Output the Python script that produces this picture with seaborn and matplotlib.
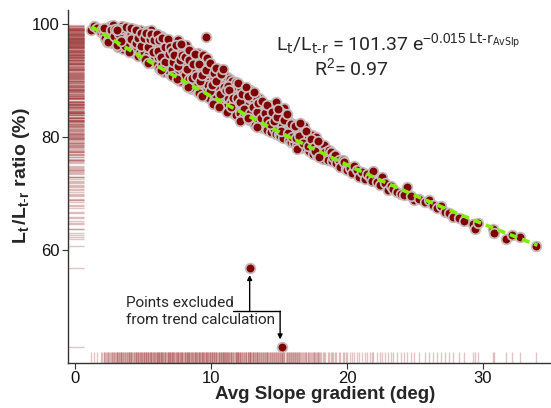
import numpy as np
import pandas as pd
import matplotlib
matplotlib.use("Agg")
import matplotlib.pyplot as plt
import seaborn as sns

# ---- data ----
slope = [
    1.2, 1.4, 1.6, 1.9, 2.0,
    2.1, 2.2, 2.3, 2.4, 2.5, 2.6, 2.7, 2.8, 2.9, 3.0, 2.35, 2.75,
    3.1, 3.2, 3.3, 3.4, 3.5, 3.6, 3.7, 3.8, 3.9, 4.0, 3.15, 3.45, 3.55, 3.85, 3.95,
    4.05, 4.1, 4.2, 4.3, 4.35, 4.4, 4.5, 4.55, 4.6, 4.7, 4.75, 4.8, 4.9, 4.95, 5.0, 4.25, 4.65,
    5.05, 5.1, 5.2, 5.25, 5.3, 5.4, 5.45, 5.5, 5.6, 5.65, 5.7, 5.8, 5.85, 5.9, 6.0, 5.15, 5.55, 5.95,
    6.05, 6.1, 6.2, 6.25, 6.3, 6.4, 6.5, 6.55, 6.6, 6.7, 6.75, 6.8, 6.9, 6.95, 7.0, 6.15, 6.45, 6.85,
    7.05, 7.1, 7.2, 7.3, 7.35, 7.4, 7.5, 7.6, 7.65, 7.7, 7.8, 7.85, 7.9, 8.0, 7.15, 7.55, 7.95,
    8.05, 8.1, 8.2, 8.25, 8.3, 8.4, 8.5, 8.55, 8.6, 8.7, 8.75, 8.8, 8.9, 8.95, 9.0, 8.15, 8.45, 8.85,
    9.05, 9.1, 9.2, 9.25, 9.3, 9.4, 9.5, 9.55, 9.6, 9.65, 9.7, 9.8, 9.85, 9.9, 10.0, 9.15, 9.45, 9.75,
    10.05, 10.1, 10.2, 10.25, 10.3, 10.4, 10.5, 10.55, 10.6, 10.7, 10.75, 10.8, 10.9, 10.95, 11.0, 10.15, 10.45, 10.85,
    11.05, 11.1, 11.2, 11.25, 11.3, 11.4, 11.45, 11.5, 11.6, 11.7, 11.75, 11.8, 11.9, 11.95, 12.0, 11.15, 11.55, 11.85,
    12.05, 12.1, 12.2, 12.3, 12.35, 12.4, 12.5, 12.6, 12.7, 12.8, 12.9, 12.95, 13.0, 12.15, 12.55, 12.85,
    13.05, 13.1, 13.2, 13.3, 13.4, 13.5, 13.6, 13.7, 13.8, 13.9, 14.0, 13.25, 13.55, 13.85,
    14.05, 14.1, 14.2, 14.3, 14.4, 14.5, 14.55, 14.6, 14.7, 14.8, 14.9, 15.0, 14.25, 14.75,
    15.05, 15.1, 15.2, 15.3, 15.4, 15.5, 15.6, 15.7, 15.8, 15.9, 16.0, 15.25, 15.75,
    16.05, 16.1, 16.2, 16.3, 16.4, 16.5, 16.6, 16.7, 16.8, 16.9, 17.0, 16.35,
    17.1, 17.2, 17.3, 17.4, 17.5, 17.6, 17.8, 17.9, 18.0, 17.7,
    18.1, 18.2, 18.3, 18.4, 18.6, 18.7, 18.8, 18.9, 19.0,
    19.1, 19.2, 19.4, 19.5, 19.7, 19.8, 19.9, 20.0,
    20.2, 20.4, 20.5, 20.7, 20.9, 21.1, 21.3, 21.5, 21.7, 21.9, 21.8,
    22.2, 22.4, 22.6, 22.8, 23.0, 23.2, 23.4, 23.7, 24.0, 24.4, 24.2, 24.9, 24.7,
    25.3, 25.7, 26.0, 26.3, 26.6, 26.9, 27.2, 27.5, 27.8,
    28.2, 28.6, 29.3, 29.4, 29.6, 30.7, 30.8, 31.7, 32.1, 32.7, 33.9,
    2.15, 2.45, 2.65, 2.85, 2.95,
    3.05, 3.25, 3.35, 3.65, 3.75, 3.05, 3.4,
    4.15, 4.15, 4.45, 4.45, 4.6, 4.85, 4.85, 4.0,
    5.1, 5.2, 5.35, 5.5, 5.6, 5.75, 5.8, 6.0, 5.35,
    6.1, 6.2, 6.35, 6.4, 6.6, 6.65, 6.8, 6.9, 7.0, 6.3,
    7.1, 7.2, 7.3, 7.45, 7.6, 7.75, 7.8, 7.9, 7.5,
    8.1, 8.2, 8.35, 8.4, 8.6, 8.65, 8.8, 8.9, 8.3,
    9.1, 9.2, 9.35, 9.4, 9.6, 9.7, 9.9, 9.95, 9.35,
    10.1, 10.2, 10.35, 10.4, 10.65, 10.7, 10.9, 10.95, 10.6,
    11.1, 11.25, 11.35, 11.5, 11.65, 11.8, 11.9, 12.0,
    12.1, 12.25, 12.45, 12.6, 12.75, 12.9, 12.7,
    13.1, 13.15, 13.35, 13.45, 13.65, 13.75, 13.95, 13.4,
    14.1, 14.15, 14.35, 14.45, 14.65, 14.85, 14.95,
    15.15, 15.35, 15.55, 15.65, 15.85, 15.95,
    16.15, 16.25, 16.45, 16.55, 16.75, 16.95,
    17.15, 17.35, 17.55, 17.65, 17.85, 17.95,
    12.84, 15.2,
]
ratio = [
    99.0, 99.6, 99.3, 98.6, 99.1,
    98.2, 97.6, 99.0, 98.5, 97.3, 99.6, 98.0, 99.8, 97.1, 98.7, 96.9, 96.6,
    97.8, 99.4, 96.5, 98.1, 95.6, 99.0, 97.2, 98.6, 95.8, 97.6, 96.0, 99.7, 97.0, 96.6, 98.9,
    95.4, 98.2, 96.3, 99.2, 94.9, 97.5, 95.9, 98.6, 94.3, 96.8, 99.0, 95.1, 97.9, 94.5, 96.4, 97.0, 98.0,
    98.3, 95.0, 96.9, 93.6, 98.7, 94.6, 97.4, 95.8, 93.1, 97.9, 96.1, 94.0, 98.0, 95.3, 92.9, 93.9, 99.0, 96.7,
    97.4, 94.2, 92.3, 95.8, 97.9, 93.0, 96.2, 91.6, 94.8, 97.0, 92.6, 95.4, 93.6, 96.6, 91.2, 96.5, 94.0, 91.9,
    94.4, 92.1, 96.0, 96.9, 90.7, 93.5, 95.2, 91.4, 94.0, 89.9, 92.8, 95.5, 90.4, 93.7, 90.8, 97.2, 91.9,
    95.8, 91.0, 93.2, 89.1, 94.6, 90.3, 92.4, 95.0, 88.6, 91.6, 94.1, 89.5, 92.9, 88.2, 90.8, 96.3, 88.7, 93.6,
    94.9, 91.2, 88.3, 93.4, 89.6, 92.1, 87.4, 90.6, 97.7, 93.0, 88.6, 92.4, 86.9, 90.0, 91.3, 87.8, 94.2, 89.3,
    88.0, 92.4, 86.4, 90.5, 87.6, 91.7, 85.9, 89.2, 92.0, 86.8, 90.1, 88.3, 85.6, 91.0, 87.1, 85.8, 88.6, 89.7,
    89.4, 85.4, 90.7, 87.0, 84.6, 90.3, 86.3, 88.2, 84.3, 89.0, 85.9, 87.5, 84.8, 88.8, 86.2, 84.5, 90.0, 83.9,
    87.3, 84.3, 88.6, 85.5, 83.3, 86.9, 88.0, 84.4, 86.2, 83.0, 88.3, 85.1, 82.9, 82.9, 85.8, 87.0,
    86.7, 84.0, 82.2, 85.6, 83.3, 86.9, 82.0, 84.7, 81.6, 85.9, 83.0, 87.3, 84.2, 82.8,
    84.6, 81.3, 82.8, 85.7, 80.9, 85.4, 83.4, 81.5, 84.0, 80.6, 82.7, 80.5, 83.9, 86.3,
    83.6, 80.2, 82.1, 79.8, 85.1, 81.3, 83.3, 79.5, 81.8, 79.2, 80.6, 84.2, 82.6,
    82.3, 79.0, 80.8, 78.6, 81.5, 79.6, 78.1, 80.4, 82.0, 78.3, 79.7, 77.9,
    79.9, 77.6, 78.8, 80.4, 77.1, 79.0, 76.9, 78.5, 77.4, 80.1,
    77.0, 76.2, 78.6, 77.4, 75.9, 77.8, 77.4, 75.7, 76.5,
    76.8, 75.4, 76.0, 74.8, 75.9, 75.6, 74.4, 74.2,
    74.5, 73.6, 74.9, 74.2, 73.0, 73.9, 72.6, 73.4, 72.9, 74.0, 72.2,
    72.1, 71.5, 73.0, 71.8, 70.6, 71.4, 70.8, 70.2, 70.0, 71.2, 69.7, 68.8, 69.5,
    69.0, 68.6, 68.8, 67.9, 67.4, 67.8, 66.7, 66.6, 65.9,
    65.6, 65.2, 64.6, 63.8, 64.8, 63.7, 63.0, 61.9, 62.6, 62.3, 60.8,
    99.3, 96.8, 98.9, 97.9, 99.2,
    96.3, 98.3, 99.1, 96.1, 99.5, 98.9, 97.0,
    97.3, 99.4, 96.7, 98.9, 97.6, 96.2, 98.4, 95.0,
    97.6, 98.5, 95.9, 97.3, 98.3, 95.0, 97.2, 98.2, 93.2,
    95.3, 97.2, 94.2, 97.6, 96.0, 93.3, 97.3, 94.7, 96.0, 91.9,
    95.3, 93.3, 94.5, 96.3, 92.5, 93.7, 96.4, 94.6, 90.3,
    94.1, 92.0, 95.5, 93.7, 90.5, 93.0, 94.8, 90.9, 88.9,
    93.0, 90.0, 91.0, 94.5, 91.8, 94.0, 93.2, 88.2, 87.2,
    89.2, 91.3, 92.3, 89.9, 87.6, 91.1, 92.1, 88.8, 85.4,
    88.3, 89.1, 88.3, 85.3, 87.0, 89.8, 86.9, 89.5,
    86.2, 87.6, 85.0, 88.9, 87.3, 84.3, 83.4,
    85.4, 88.0, 84.5, 86.0, 83.4, 86.4, 84.2, 81.8,
    83.0, 85.7, 82.3, 84.4, 82.8, 83.6, 85.0,
    81.0, 83.0, 84.1, 80.7, 82.4, 80.0,
    81.9, 79.8, 80.2, 82.5, 79.0, 81.1,
    78.4, 79.6, 78.3, 77.5, 79.3, 76.5,
    56.9, 42.8,
]
fit_a = 101.37
fit_b = -0.015
x_ticks = [0, 10, 20, 30]
y_ticks = [60, 80, 100]

df = pd.DataFrame({"slope": slope, "ratio": ratio})
fit_x = np.linspace(1.2, 34.0, 200)
fit_df = pd.DataFrame({"slope": fit_x, "ratio": fit_a * np.exp(fit_b * fit_x)})

sns.set_theme(style="ticks")
plt.rcParams["font.family"] = ["Liberation Sans", "DejaVu Sans"]
plt.rcParams["mathtext.fontset"] = "custom"
plt.rcParams["mathtext.rm"] = "Liberation Sans"
plt.rcParams["mathtext.bf"] = "Liberation Sans:bold"
plt.rcParams["mathtext.it"] = "Liberation Sans"

fig = plt.figure(figsize=(5.51, 4.08), dpi=100)
ax = fig.add_axes([0.1234, 0.110, 0.8766, 0.8655])

rug_col = "#a03c3c"
sns.rugplot(data=df, x="slope", height=0.032, color=rug_col, alpha=0.3, lw=1, ax=ax, expand_margins=False)
sns.rugplot(data=df, y="ratio", height=0.034, color=rug_col, alpha=0.3, lw=1, ax=ax, expand_margins=False)

sns.scatterplot(data=df, x="slope", y="ratio", color="#7f0000", edgecolor="#c8baba",
                linewidth=1.3, s=48, ax=ax, zorder=3, legend=False)
sns.lineplot(data=fit_df, x="slope", y="ratio", color="#80ee00", lw=2.6,
             linestyle=(0, (2.2, 1.4)), ax=ax, zorder=4)

ax.set_xlim(-0.52, 35.0)
ax.set_ylim(40.0, 102.5)
ax.set_xticks(x_ticks)
ax.set_yticks(y_ticks)
ax.tick_params(axis="both", labelsize=12, length=4, width=0.8, color="#333333", labelcolor="#111111", pad=2)
for s in ["top", "right"]:
    ax.spines[s].set_visible(False)
for s in ["left", "bottom"]:
    ax.spines[s].set_color("#333333")
    ax.spines[s].set_linewidth(1.0)

ax.set_xlabel("Avg Slope gradient (deg)", fontsize=13.5, fontweight="bold")
ax.xaxis.set_label_coords(0.532, -0.064)
ax.set_ylabel(r"$\mathbf{L}_{\mathbf{t}}\,\mathbf{/L}_{\mathbf{t\text{-}r}}$ ratio (%)",
              fontsize=14, fontweight="bold")
ax.yaxis.set_label_coords(-0.075, 0.53)

# equation annotation
ax.text(0.43, 0.905, r"L$_{\mathsf{t}}$/L$_{\mathsf{t\text{-}r}}$ = 101.37 e$^{-0.015\ \mathsf{Lt\text{-}r}_{\mathsf{AvSlp}}}$",
        transform=ax.transAxes, fontsize=14, family="Roboto", ha="left", va="center")
ax.text(0.51, 0.835, r"R$^{2}$= 0.97", transform=ax.transAxes, fontsize=14,
        family="Roboto", ha="left", va="center")

# excluded points annotation
ax.text(0.12, 0.147, "Points excluded\nfrom trend calculation", transform=ax.transAxes,
        fontsize=11, family="Roboto", ha="left", va="center", linespacing=1.25)
ax.plot([11.6, 15.08], [49.2, 49.2], color="black", lw=1)
ax.annotate("", xy=(12.84, 55.6), xytext=(12.84, 49.2),
            arrowprops=dict(arrowstyle="-|>", color="black", lw=1, mutation_scale=7, shrinkA=0, shrinkB=0))
ax.annotate("", xy=(15.08, 44.2), xytext=(15.08, 49.2),
            arrowprops=dict(arrowstyle="-|>", color="black", lw=1, mutation_scale=7, shrinkA=0, shrinkB=0))

fig.savefig("out.png", dpi=100)
